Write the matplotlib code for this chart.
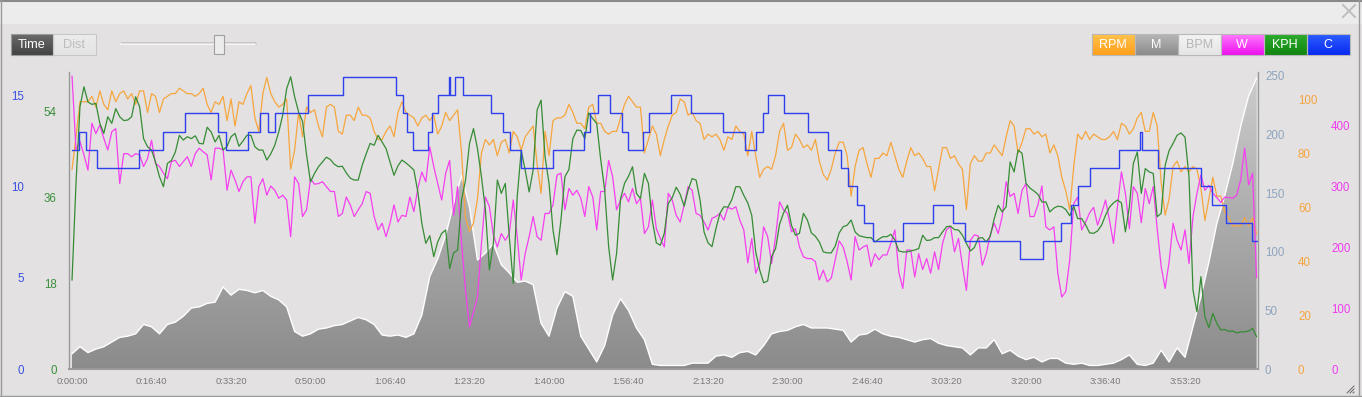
import numpy as np
import matplotlib
matplotlib.use('Agg')
import matplotlib.pyplot as plt
from matplotlib.colors import LinearSegmentedColormap
from matplotlib.patches import Rectangle

plt.rcParams['font.family'] = ['Liberation Sans', 'DejaVu Sans']

# sample spacing (seconds) of the series
step_fast = 50
step_slow = 100

# cadence, every 50 s
rpm = [74, 86, 99, 99, 99, 101, 97, 103, 98, 96, 103, 99, 102, 103, 100, 102, 98, 103, 103, 95,
       102, 101, 95, 100, 101, 102, 102, 104, 103, 102, 102, 101, 102, 104, 98, 95, 99, 98, 101, 92,
       100, 90, 99, 98, 102, 105, 93, 88, 102, 108, 102, 99, 97, 98, 100, 74, 81, 95, 86, 97, 95,
       96, 90, 86, 97, 98, 97, 88, 87, 94, 94, 92, 97, 94, 94, 93, 88, 85, 85, 88, 90,
       86, 95, 99, 95, 94, 93, 90, 93, 94, 92, 94, 87, 90, 95, 92, 94, 96, 80, 56, 51,
       54, 63, 80, 85, 83, 85, 79, 84, 85, 80, 88, 86, 81, 86, 88, 90, 76, 65, 88, 79,
       92, 93, 93, 94, 98, 95, 91, 91, 89, 97, 98, 91, 91, 88, 87, 88, 88, 93, 98, 101,
       99, 97, 97, 80, 85, 90, 87, 79, 85, 90, 94, 95, 100, 99, 94, 95, 92, 91, 85, 87,
       86, 87, 85, 81, 86, 85, 90, 88, 87, 79, 88, 79, 71, 74, 75, 74, 79, 88, 91, 81,
       82, 87, 85, 82, 83, 81, 85, 77, 72, 70, 74, 80, 84, 84, 79, 64, 75, 81, 82, 76,
       71, 78, 78, 80, 79, 84, 79, 74, 71, 77, 82, 79, 80, 78, 75, 75, 66, 74, 82, 82,
       78, 79, 76, 74, 59, 76, 79, 77, 77, 80, 80, 83, 81, 79, 86, 92, 90, 80, 84, 89,
       89, 87, 88, 86, 87, 80, 83, 79, 71, 66, 59, 75, 87, 85, 88, 85, 87, 86, 85, 85,
       86, 88, 85, 91, 90, 87, 89, 93, 95, 88, 88, 95, 90, 69, 57, 63, 75, 77, 73, 75,
       73, 75, 74, 67, 55, 63, 71, 64, 64, 58, 56, 53, 53, 53, 56, 53, 56, 50]

# power, every 50 s
watts = [480, 359, 373, 351, 326, 403, 386, 400, 378, 359, 389, 394, 304, 353, 353, 348, 353, 351, 332, 345,
         375, 337, 332, 321, 312, 340, 342, 332, 340, 348, 332, 353, 362, 356, 351, 310, 362, 362, 359, 293,
         326, 310, 291, 307, 315, 315, 239, 299, 312, 285, 300, 293, 280, 285, 277, 217, 315, 304, 250, 261, 312,
         303, 304, 307, 299, 291, 291, 250, 255, 282, 269, 250, 261, 271, 291, 288, 250, 228, 239, 217, 239,
         269, 241, 252, 250, 282, 258, 296, 323, 307, 364, 332, 304, 277, 321, 342, 252, 299, 206, 129, 69,
         94, 118, 206, 282, 266, 220, 200, 222, 211, 222, 277, 217, 146, 189, 217, 250, 217, 211, 255, 255,
         269, 318, 321, 261, 296, 285, 293, 280, 250, 299, 282, 228, 291, 291, 342, 315, 261, 277, 288, 274,
         296, 271, 280, 222, 233, 277, 230, 214, 200, 288, 277, 252, 241, 269, 299, 293, 255, 252, 241, 228,
         247, 250, 255, 244, 265, 262, 266, 244, 228, 174, 214, 157, 173, 233, 217, 173, 217, 274, 261, 255,
         225, 230, 200, 184, 181, 181, 176, 146, 162, 143, 149, 179, 210, 200, 176, 146, 217, 195, 200, 203,
         168, 189, 179, 187, 187, 206, 228, 159, 132, 195, 195, 151, 189, 163, 181, 157, 192, 163, 206, 228,
         234, 192, 214, 170, 129, 211, 220, 218, 170, 189, 220, 239, 222, 250, 307, 283, 288, 255, 293, 304,
         250, 250, 269, 300, 233, 228, 233, 157, 118, 127, 179, 271, 282, 228, 241, 256, 265, 236, 255, 277,
         244, 206, 266, 323, 288, 230, 299, 288, 240, 296, 271, 299, 230, 168, 132, 176, 239, 211, 195, 228,
         173, 250, 288, 318, 293, 301, 288, 281, 273, 282, 281, 280, 285, 310, 362, 302, 321, 150]

# speed, every 50 s
kph = [18.7, 39.0, 55.1, 59.3, 56.1, 55.6, 55.8, 51.6, 49.5, 53.0, 51.6, 54.7, 53.0, 52.2, 52.3, 53.0, 57.2, 55.1, 48.4, 46.7,
       46.0, 43.5, 40.4, 38.3, 43.2, 43.8, 45.6, 49.1, 48.1, 48.8, 48.4, 49.0, 47.4, 47.3, 50.8, 49.8, 47.7, 49.1, 46.0, 46.8,
       48.8, 49.5, 46.8, 47.9, 49.1, 49.1, 46.7, 46.0, 46.0, 43.9, 45.2, 47.0, 49.8, 53.3, 58.9, 61.4, 57.2, 54.0, 52.0, 45.0, 39.3,
       41.1, 42.5, 43.5, 44.5, 44.0, 43.0, 42.5, 42.6, 41.2, 40.1, 39.7, 39.7, 42.8, 45.2, 47.4, 47.0, 49.1, 47.7, 46.3, 43.5,
       40.7, 42.7, 43.9, 43.3, 42.6, 41.8, 37.2, 30.6, 26.4, 28.0, 23.6, 26.7, 28.5, 29.2, 21.1, 24.4, 25.0, 35.5, 39.7, 47.4,
       50.5, 46.3, 40.4, 33.4, 20.8, 26.4, 39.7, 36.9, 39.0, 27.8, 18.0, 36.2, 45.9, 41.8, 37.2, 41.8, 54.4, 56.5, 44.6, 39.0,
       29.2, 24.0, 31.3, 40.4, 41.9, 48.4, 50.2, 50.1, 48.4, 53.8, 52.6, 51.6, 44.0, 37.6, 25.7, 18.7, 24.3, 35.8, 39.0, 40.5,
       42.5, 36.9, 35.8, 41.1, 39.0, 31.1, 26.5, 26.0, 28.5, 34.8, 36.0, 38.2, 36.7, 34.2, 37.6, 40.0, 39.7, 35.5, 28.8, 26.5,
       25.7, 29.5, 32.7, 34.1, 34.0, 35.6, 38.3, 38.3, 36.5, 34.9, 32.3, 24.6, 20.8, 18.1, 18.5, 23.6, 25.3, 30.4, 32.8, 34.4,
       30.2, 28.1, 28.5, 32.7, 31.3, 28.6, 27.9, 26.7, 24.6, 24.4, 24.4, 25.8, 28.6, 29.9, 30.2, 31.3, 28.8, 28.0, 27.8, 27.6,
       27.6, 26.7, 27.3, 27.8, 27.8, 28.3, 27.1, 24.8, 24.6, 24.6, 24.8, 25.0, 25.3, 28.1, 27.0, 27.1, 27.6, 27.6, 28.8, 29.9,
       30.0, 29.3, 29.2, 28.1, 26.4, 24.8, 25.5, 27.5, 27.6, 26.7, 27.9, 31.6, 34.4, 33.0, 34.1, 43.5, 41.4, 46.0, 45.3, 39.0,
       38.0, 37.4, 36.7, 35.1, 35.1, 33.0, 33.8, 34.2, 34.1, 33.5, 32.2, 34.2, 31.6, 31.6, 30.3, 28.6, 28.5, 29.0, 30.2, 32.3,
       34.0, 34.9, 35.5, 34.9, 28.8, 34.1, 43.2, 45.6, 36.9, 42.1, 41.4, 41.1, 32.0, 32.7, 42.8, 45.9, 47.4, 49.1, 49.6, 48.7,
       40.4, 16.6, 12.0, 19.4, 11.0, 8.7, 11.7, 9.6, 8.2, 8.3, 7.9, 8.0, 7.6, 7.8, 7.8, 8.0, 8.5, 6.8]

# the grey "M" channel, every 100 s
m_vals = [13, 19, 14, 17, 19, 23, 27, 28, 30, 38, 36, 30, 38, 40, 45, 52, 53, 56, 57, 70,
          63, 68, 67, 65, 67, 62, 59, 53, 32, 28, 30, 34, 35, 37, 38, 41, 44, 42, 38, 29,
          28, 29, 27, 30, 46, 79, 94, 114, 141, 165, 138, 93, 99, 107, 89, 82, 74, 75, 72, 39,
          28, 52, 66, 62, 28, 17, 6, 20, 46, 60, 50, 35, 25, 4, 3, 3, 3, 3, 5, 5,
          5, 11, 12, 10, 14, 15, 12, 20, 30, 32, 33, 36, 38, 35, 35, 35, 34, 33, 23, 29,
          30, 34, 30, 28, 27, 25, 23, 25, 26, 22, 20, 19, 18, 12, 18, 18, 25, 13, 16, 11,
          8, 10, 6, 9, 9, 5, 4, 5, 3, 3, 4, 5, 8, 12, 4, 3, 5, 16, 6, 18,
          10, 36, 62, 91, 124, 148, 175, 207, 233, 248]

# "C" channel: stepped, change times (s) and levels
c_time = [0, 84, 176, 310, 839, 1140, 1421, 1832, 1937, 2210, 2369, 2470, 2558, 2973, 3405, 4075,
          4159, 4218, 4285, 4482, 4533, 4608, 4742, 4759, 4818, 4914, 5270, 5426, 5509, 5648,
          6055, 6444, 6516, 6621, 6771, 6914, 6998, 7187, 7262, 7530, 7782, 8193, 8465, 8600,
          8696, 8750, 8956, 9262, 9505, 9673, 9765, 9870, 9962, 10071, 10457, 10826, 11086,
          11233, 11929, 12210, 12436, 12566, 12658, 12809, 13170, 13438, 13455, 13665, 14197,
          14336, 14512, 14838, 14900]
c_gear = [12, 13, 12, 11, 12, 13, 14, 13, 12, 13, 14, 13, 14, 15, 16, 15,
          14, 13, 12, 13, 14, 15, 16, 15, 16, 15, 14, 13, 12, 11,
          12, 13, 14, 15, 14, 13, 12, 13, 14, 15, 14, 13, 12, 13,
          14, 15, 14, 13, 12, 11, 10, 9, 8, 7, 8, 9, 8,
          7, 6, 7, 8, 9, 10, 11, 12, 13, 12, 11, 10,
          9, 8, 7, 7]

legend_names = ['RPM', 'M', 'BPM', 'W', 'KPH', 'C']

t_fast = np.arange(len(rpm)) * step_fast
t_slow = np.arange(len(m_vals)) * step_slow

bg = '#e3e1e1'
fig = plt.figure(figsize=(13.62, 3.97), dpi=100, facecolor=bg)

# ---- window chrome (pixel coords) ----
ui = fig.add_axes([0, 0, 1, 1])
ui.axis('off')


def grad_box(x0, y0, w, h, top, bottom, edge):
    cm = LinearSegmentedColormap.from_list('b', [top, bottom])
    ui.imshow(np.linspace(0, 1, 32).reshape(-1, 1), cmap=cm, aspect='auto',
              extent=[x0, x0 + w, y0 + h, y0], interpolation='bilinear', zorder=2)
    ui.add_patch(Rectangle((x0, y0), w, h, fill=False, edgecolor=edge, lw=0.8, zorder=3))


ui.add_patch(Rectangle((0, 0), 1362, 23, color='#ececec', zorder=1))
ui.plot([0, 1362], [0.6, 0.6], color='#8a8a8a', lw=1.5, zorder=2)
ui.plot([1358.5, 1358.5], [0, 397], color='#9a9a9a', lw=1, zorder=2)
ui.plot([0.5, 0.5], [0, 397], color='#9a9a9a', lw=1, zorder=2)
ui.plot([0, 1362], [395.5, 395.5], color='#9a9a9a', lw=1, zorder=2)
ui.plot([1343, 1355], [5, 17], color='#bdbdbd', lw=1.4, zorder=2)
ui.plot([1343, 1355], [17, 5], color='#bdbdbd', lw=1.4, zorder=2)
for d in (0, 3, 6):
    ui.plot([1347 + d, 1354], [393, 386 + d], color='#666666', lw=0.7, zorder=2)

grad_box(11, 34, 42, 21, '#6b6b6b', '#434343', '#9a9a9a')
ui.text(32, 44.5, 'Time', color='white', fontsize=9.2, ha='center', va='center', zorder=4)
grad_box(53, 34, 43, 21, '#ececec', '#e4e4e4', '#c8c8c8')
ui.text(74.5, 44.5, 'Dist', color='#bdbdbd', fontsize=9.2, ha='center', va='center', zorder=4)

ui.plot([121, 255], [42.5, 42.5], color='#555555', lw=1, zorder=2)
ui.plot([121, 255], [44.3, 44.3], color='white', lw=1.2, zorder=2)
ui.add_patch(Rectangle((214, 35), 10, 19, facecolor='#ececec', edgecolor='#a0a0a0', lw=0.8, zorder=3))

btn_top = ['#ffc24c', '#b6b6b6', '#f4f4f4', '#ff7aff', '#2cab2c', '#2c5eff']
btn_bottom = ['#ff9f1c', '#8c8c8c', '#e5e5e5', '#ee10ee', '#118611', '#0a2af0']
btn_text = ['white', 'white', '#b5b5b5', 'white', 'white', 'white']
for i, name in enumerate(legend_names):
    x0 = 1091.7 + 43 * i
    grad_box(x0, 34.3, 43, 21, btn_top[i], btn_bottom[i], '#b8b8b8')
    ui.text(x0 + 21.5, 45, name, color=btn_text[i], fontsize=9, ha='center', va='center', zorder=4)

ui.set_xlim(0, 1362)
ui.set_ylim(397, 0)

# ---- chart ----
x_lo, x_hi = -38, 14918
rect = [69 / 1362, (397 - 369) / 397, (1258 - 69) / 1362, (369 - 72) / 397]
ax_m = fig.add_axes(rect)
ax_m.set_facecolor(bg)
ax_rpm = ax_m.twinx()
ax_w = ax_m.twinx()
ax_kph = ax_m.twinx()
ax_c = ax_m.twinx()

m_top, rpm_top, w_top, kph_top, c_top = 253.4, 110.0, 486.9, 62.4, 16.26

fill = ax_m.fill_between(t_slow, m_vals, 0, facecolor='none', edgecolor='none')
grey = LinearSegmentedColormap.from_list('grey', ['#8b8b8b', '#cdcdcd'])
img = ax_m.imshow(np.linspace(0, 1, 256).reshape(-1, 1), cmap=grey, origin='lower', aspect='auto',
                  extent=[x_lo, x_hi, 0, m_top], zorder=1)
img.set_clip_path(fill.get_paths()[0], transform=ax_m.transData)
ax_m.plot(t_slow, m_vals, color='white', lw=1.0, zorder=2)

ax_rpm.plot(t_fast, rpm, color='#f7a63e', lw=0.9)
ax_w.plot(t_fast, watts, color='#f53ff0', lw=0.9)
ax_kph.plot(t_fast, kph, color='#358c35', lw=0.9)
ax_c.step(c_time, c_gear, where='post', color='#2f40ee', lw=1.0)

ax_m.set_xlim(x_lo, x_hi)
ax_m.set_ylim(0, m_top)
ax_rpm.set_ylim(0, rpm_top)
ax_w.set_ylim(0, w_top)
ax_kph.set_ylim(0, kph_top)
ax_c.set_ylim(0, c_top)

xt = np.arange(0, 14001, 1000)
ax_m.set_xticks(xt)
ax_m.set_xticklabels([f"{s // 3600}:{s % 3600 // 60:02d}:{s % 60:02d}" for s in xt])
ax_m.tick_params(axis='x', length=0, pad=5.4, labelsize=6.8, labelcolor='#7a7a7a')

ax_m.yaxis.tick_right()
ax_m.set_yticks([0, 50, 100, 150, 200, 250])
ax_m.tick_params(axis='y', length=0, pad=5, labelsize=8.3, labelcolor='#8ea4bf')
ax_rpm.set_yticks([0, 20, 40, 60, 80, 100])
ax_rpm.tick_params(axis='y', length=0, pad=28.8, labelsize=8.3, labelcolor='#f6a53f')
ax_w.set_yticks([0, 100, 200, 300, 400])
ax_w.tick_params(axis='y', length=0, pad=52.6, labelsize=8.3, labelcolor='#f03cf0')
ax_kph.yaxis.tick_left()
ax_kph.set_yticks([0, 18, 36, 54])
ax_kph.tick_params(axis='y', length=0, pad=8.9, labelsize=8.3, labelcolor='#3a8f3a')
ax_c.yaxis.tick_left()
ax_c.set_yticks([0, 5, 10, 15])
ax_c.tick_params(axis='y', length=0, pad=32.4, labelsize=8.3, labelcolor='#3a4fe4')

for a in (ax_rpm, ax_w, ax_kph, ax_c):
    for s in a.spines.values():
        s.set_visible(False)
ax_m.spines['top'].set_visible(False)
for side in ('left', 'right', 'bottom'):
    ax_m.spines[side].set_color('#9a9a9a')
    ax_m.spines[side].set_linewidth(1.0)
ax_m.spines['bottom'].set_linewidth(1.4)

fig.savefig('out.png', dpi=100, facecolor=bg)
